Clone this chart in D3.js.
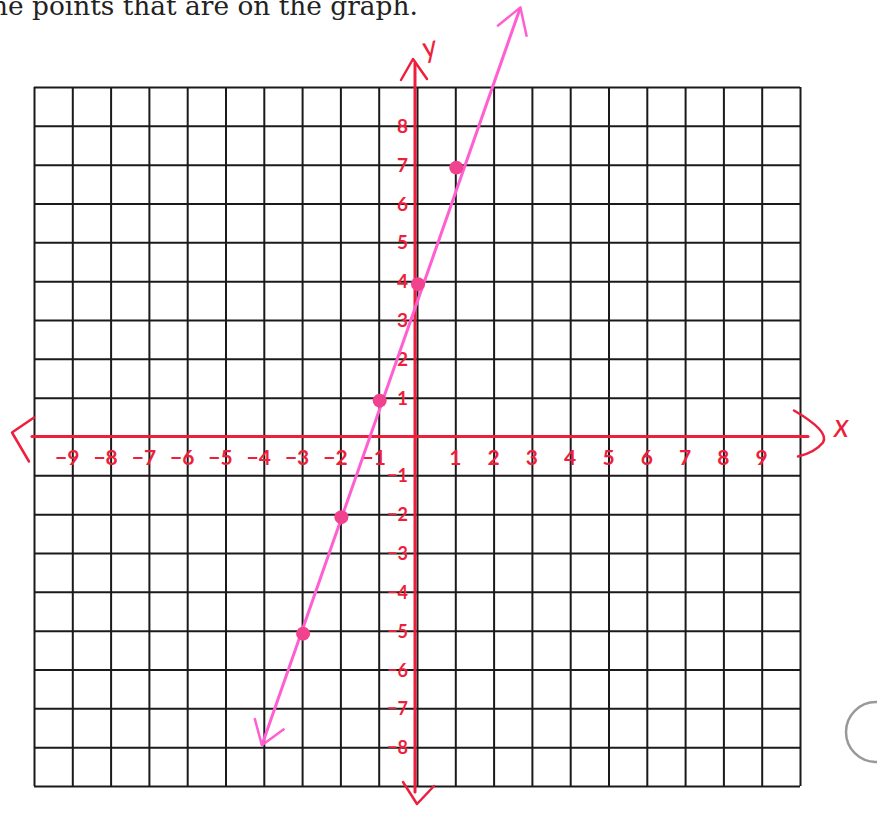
<!DOCTYPE html>
<html>
<head>
<meta charset="utf-8">
<script src="https://cdn.jsdelivr.net/npm/d3@7/dist/d3.min.js"></script>
<style>
  html, body { margin: 0; padding: 0; background: #fff; }
  svg { display: block; }
</style>
</head>
<body>
<svg id="chart" width="877" height="813"></svg>
<script>
// Worksheet heading
const heading = "the points that are on the graph.";

// Grid extent (one square per unit)
const gridX = [-10, 10];
const gridY = [-9, 9];

// Hand-written axis numbers
const xTickLabels = [-9, -8, -7, -6, -5, -4, -3, -2, -1, 1, 2, 3, 4, 5, 6, 7, 8, 9];
const yTickLabels = [8, 7, 6, 5, 4, 3, 2, 1, -1, -2, -3, -4, -5, -6, -7, -8];

// Plotted points
const pointX = [1, 0, -1, -2, -3];
const pointY = [7, 4, 1, -2, -5];

// Ends of the drawn line (arrow tips)
const lineEndX = [2.7, -4.05];
const lineEndY = [11.05, -7.95];

const svg = d3.select("#chart");
const x = d3.scaleLinear().domain(gridX).range([34, 800]);
const y = d3.scaleLinear().domain(gridY).range([786, 87]);

const RED = "#ee1f3c";
const PINK = "#ff5fd0";

// Heading text: sized so "points ... graph." runs from x=32 to x=418
const head = svg.append("text")
  .attr("y", 15)
  .attr("font-family", "'DejaVu Serif', serif")
  .attr("font-size", 22)
  .attr("fill", "#222")
  .text(heading);
{
  const node = head.node();
  const total = node.getComputedTextLength();
  const prefix = node.getSubStringLength(0, 4);
  const k = (418 - 32) / (total - prefix);
  head.attr("font-size", 22 * k).attr("x", 32 - prefix * k);
}

// Grid
const grid = svg.append("g").attr("class", "grid");
grid.append("g")
  .attr("transform", `translate(0,${y(gridY[0])})`)
  .call(d3.axisBottom(x).tickValues(d3.range(gridX[0], gridX[1] + 1)).tickSize(-(y(gridY[0]) - y(gridY[1]))).tickFormat(""))
  .call(g => g.select(".domain").remove());
grid.append("g")
  .attr("transform", `translate(${x(gridX[0])},0)`)
  .call(d3.axisLeft(y).tickValues(d3.range(gridY[0], gridY[1] + 1)).tickSize(-(x(gridX[1]) - x(gridX[0]))).tickFormat(""))
  .call(g => g.select(".domain").remove());
grid.selectAll("line").attr("stroke", "#1a1a1a").attr("stroke-width", 2);

// Red axes
const axes = svg.append("g").attr("fill", "none").attr("stroke", RED).attr("stroke-linecap", "round").attr("stroke-linejoin", "round");
axes.append("line")
  .attr("x1", x(gridX[0]) - 2).attr("x2", x(gridX[1]) + 8)
  .attr("y1", y(0)).attr("y2", y(0))
  .attr("stroke-width", 3);
axes.append("line")
  .attr("x1", x(0) - 2).attr("x2", x(0) - 2)
  .attr("y1", y(gridY[1]) - 24).attr("y2", y(gridY[0]) + 6)
  .attr("stroke-width", 3);

// Arrowheads on the axes
const ax0 = x(0) - 2, ay0 = y(0);
axes.append("path").attr("stroke-width", 2.5)
  .attr("d", `M${x(gridX[0]) - 0},${ay0 - 19} L${x(gridX[0]) - 22},${ay0 - 4} L${x(gridX[0]) - 5},${ay0 + 25}`);
axes.append("path").attr("stroke-width", 2.5)
  .attr("d", `M${x(gridX[1]) - 6},${ay0 - 26} Q${x(gridX[1]) + 30},${ay0 - 5} ${x(gridX[1]) + 23},${ay0 + 6} Q${x(gridX[1]) + 15},${ay0 + 16} ${x(gridX[1]) - 2},${ay0 + 20}`);
axes.append("path").attr("stroke-width", 2.5)
  .attr("d", `M${ax0 - 14},${y(gridY[1]) - 7} L${ax0 - 2},${y(gridY[1]) - 28} L${ax0 + 12},${y(gridY[1]) - 8}`);
axes.append("path").attr("stroke-width", 2.5)
  .attr("d", `M${ax0 - 12},${y(gridY[0]) - 4} L${ax0 + 2},${y(gridY[0]) + 18} L${ax0 + 19},${y(gridY[0]) + 0}`);

// Axis names
const hand = "Lato, 'Noto Sans', sans-serif";
svg.append("text").attr("x", 834).attr("y", 437)
  .attr("font-family", hand).attr("font-size", 32).attr("font-style", "italic").attr("fill", RED).text("x");
svg.append("text").attr("x", 423).attr("y", 57)
  .attr("font-family", hand).attr("font-size", 30).attr("font-style", "italic").attr("fill", RED)
  .attr("transform", "rotate(-15,431,50)").text("y");

// Tick numbers along the x-axis
svg.append("g").selectAll("text").data(xTickLabels).join("text")
  .attr("x", d => x(d) - (d < 0 ? 5 : 0))
  .attr("y", y(0) + 28)
  .attr("text-anchor", "middle")
  .attr("font-family", hand).attr("font-size", 21).attr("font-weight", 700)
  .attr("fill", RED)
  .text(d => d < 0 ? "\u2212" + Math.abs(d) : d);

// Tick numbers along the y-axis
svg.append("g").selectAll("text").data(yTickLabels).join("text")
  .attr("x", x(0) - 9)
  .attr("y", d => y(d) + 7)
  .attr("text-anchor", "end")
  .attr("font-family", hand).attr("font-size", d => d < 0 ? 18 : 19).attr("font-weight", 700)
  .attr("fill", RED)
  .text(d => d < 0 ? "\u2212" + Math.abs(d) : d);

// The drawn line with arrow tips
const lineData = d3.zip(lineEndX, lineEndY);
svg.append("path")
  .datum(lineData)
  .attr("d", d3.line().x(d => x(d[0])).y(d => y(d[1])))
  .attr("stroke", PINK).attr("stroke-width", 3).attr("fill", "none");

function tip(p, q, len, spread) {
  const px = x(p[0]), py = y(p[1]), qx = x(q[0]), qy = y(q[1]);
  const ang = Math.atan2(qy - py, qx - px);
  const a1 = ang + spread, a2 = ang - spread;
  return `M${px + len * Math.cos(a1)},${py + len * Math.sin(a1)} L${px},${py} L${px + len * Math.cos(a2)},${py + len * Math.sin(a2)}`;
}
svg.append("path").attr("d", tip(lineData[0], lineData[1], 30, 0.55))
  .attr("stroke", PINK).attr("stroke-width", 2.5).attr("fill", "none").attr("stroke-linejoin", "round");
svg.append("path").attr("d", tip(lineData[1], lineData[0], 28, 0.6))
  .attr("stroke", PINK).attr("stroke-width", 2.5).attr("fill", "none").attr("stroke-linejoin", "round");

// Plotted points
svg.append("g").selectAll("circle").data(d3.zip(pointX, pointY)).join("circle")
  .attr("cx", d => x(d[0]) + 1)
  .attr("cy", d => y(d[1]) + 3)
  .attr("r", 7)
  .attr("fill", "#f0428e");

// Partial circle at the right margin
svg.append("circle")
  .attr("cx", 876).attr("cy", 732).attr("r", 30)
  .attr("fill", "none").attr("stroke", "#999").attr("stroke-width", 2.5);
</script>
</body>
</html>
